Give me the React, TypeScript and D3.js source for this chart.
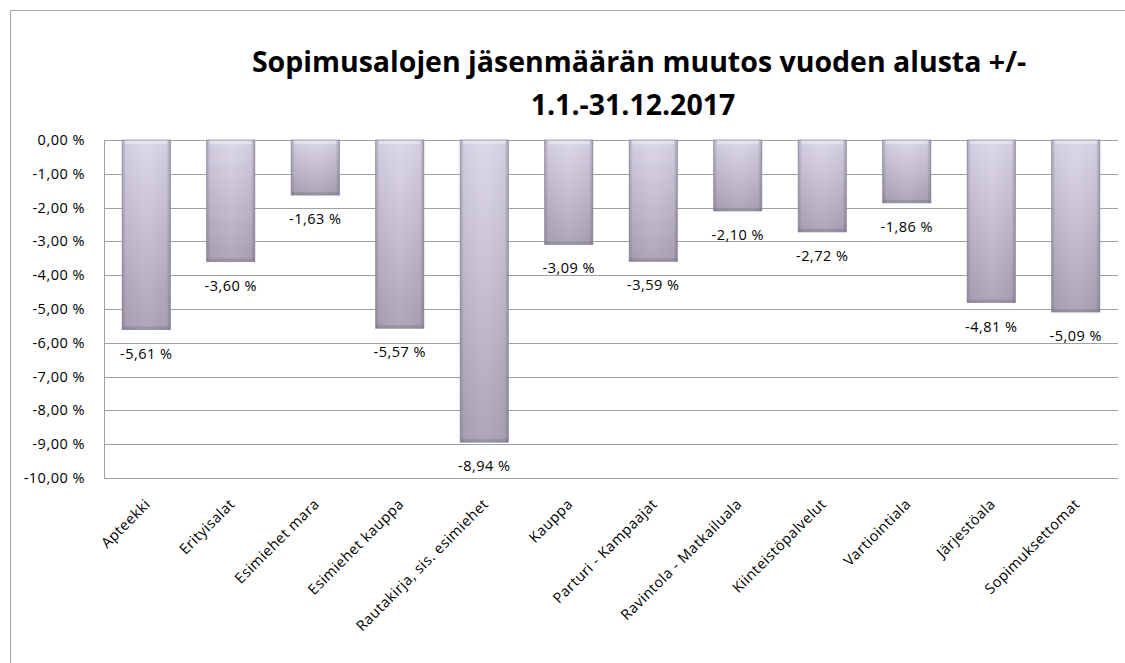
import * as d3 from "d3";

const categories = [
  "Apteekki",
  "Erityisalat",
  "Esimiehet mara",
  "Esimiehet kauppa",
  "Rautakirja, sis. esimiehet",
  "Kauppa",
  "Parturi - Kampaajat",
  "Ravintola - Matkailuala",
  "Kiinteistöpalvelut",
  "Vartiointiala",
  "Järjestöala",
  "Sopimuksettomat",
];

const changes = [-5.61, -3.6, -1.63, -5.57, -8.94, -3.09, -3.59, -2.1, -2.72, -1.86, -4.81, -5.09];

const yTicks = [0, -1, -2, -3, -4, -5, -6, -7, -8, -9, -10];

const titleLines = ["Sopimusalojen jäsenmäärän muutos vuoden alusta +/-", "1.1.-31.12.2017"];

const W = 1125;
const H = 663;
const FONT = "'Open Sans', 'DejaVu Sans', sans-serif";
const SMALL = 14.5;
const SPACING = 0.5;

const fmt = (v: number) => d3.format(".2f")(v).replace("−", "-").replace(".", ",") + " %";

export default function App() {
  const plot = { left: 104, right: 1118, top: 140, bottom: 478 };

  const x = d3
    .scaleBand()
    .domain(categories)
    .range([plot.left, plot.right])
    .paddingInner(0.43)
    .paddingOuter(0.215);

  const y = d3.scaleLinear().domain([-10, 0]).range([plot.bottom, plot.top]);

  const bw = x.bandwidth();

  return (
    <svg
      width={W}
      height={H}
      viewBox={`0 0 ${W} ${H}`}
      style={{ position: "absolute", left: 0, top: 0, background: "#fff" }}
    >
      <defs>
        <linearGradient id="barFill" x1="0" y1="0" x2="0" y2="1">
          <stop offset="0%" stopColor="#dcd6ea" />
          <stop offset="100%" stopColor="#a9a2b5" />
        </linearGradient>
        <linearGradient id="barEdge" x1="0" y1="0" x2="1" y2="0">
          <stop offset="0%" stopColor="#5a5366" stopOpacity={0.35} />
          <stop offset="8%" stopColor="#5a5366" stopOpacity={0.06} />
          <stop offset="50%" stopColor="#ffffff" stopOpacity={0.05} />
          <stop offset="92%" stopColor="#5a5366" stopOpacity={0.06} />
          <stop offset="100%" stopColor="#5a5366" stopOpacity={0.4} />
        </linearGradient>
      </defs>

      {/* frame */}
      <line x1={10.5} y1={10.5} x2={W} y2={10.5} stroke="#a6a6a6" />
      <line x1={10.5} y1={10.5} x2={10.5} y2={H} stroke="#a6a6a6" />

      {/* title */}
      <text x={639} y={72} textAnchor="middle" fontFamily={FONT} fontWeight={700} fontSize={28.5} fill="#000">
        {titleLines[0]}
      </text>
      <text x={633} y={115} textAnchor="middle" fontFamily={FONT} fontWeight={700} fontSize={28.5} fill="#000">
        {titleLines[1]}
      </text>

      {/* gridlines */}
      {yTicks.map((t) => (
        <line
          key={t}
          x1={plot.left}
          x2={plot.right}
          y1={Math.round(y(t)) + 0.5}
          y2={Math.round(y(t)) + 0.5}
          stroke="#a0a0a0"
          strokeWidth={1}
        />
      ))}
      <line x1={plot.left + 0.5} x2={plot.left + 0.5} y1={y(0)} y2={y(-10) + 0.5} stroke="#a0a0a0" />

      {/* y tick labels */}
      {yTicks.map((t) => (
        <text
          key={t}
          x={85}
          y={y(t) + 5}
          textAnchor="end"
          fontFamily={FONT}
          fontSize={SMALL}
          letterSpacing={SPACING}
          fill="#000"
        >
          {fmt(t)}
        </text>
      ))}

      {/* bars */}
      {categories.map((c, i) => {
        const x0 = x(c) || 0;
        const y0 = y(0);
        const h = y(changes[i]) - y0;
        return (
          <g key={c}>
            <rect x={x0} y={y0} width={bw} height={h} fill="url(#barFill)" stroke="#9c95a6" strokeWidth={0.8} />
            <rect x={x0} y={y0} width={bw} height={h} fill="url(#barEdge)" />
            <rect x={x0 + 3} y={y0 + 1} width={bw - 6} height={3} fill="#ffffff" opacity={0.35} />
            <rect x={x0} y={y0 + h - 3} width={bw} height={3} fill="#6e6779" opacity={0.3} />
          </g>
        );
      })}

      {/* value labels */}
      {categories.map((c, i) => (
        <text
          key={c}
          x={(x(c) || 0) + bw / 2}
          y={y(changes[i]) + 29}
          textAnchor="middle"
          fontFamily={FONT}
          fontSize={SMALL}
          letterSpacing={SPACING}
          fill="#000"
        >
          {fmt(changes[i])}
        </text>
      ))}

      {/* category labels */}
      {categories.map((c) => (
        <text
          key={c}
          transform={`translate(${(x(c) || 0) + bw / 2 + 5},${plot.bottom + 27}) rotate(-45)`}
          textAnchor="end"
          fontFamily={FONT}
          fontSize={SMALL}
          letterSpacing={SPACING}
          fill="#000"
        >
          {c}
        </text>
      ))}
    </svg>
  );
}
